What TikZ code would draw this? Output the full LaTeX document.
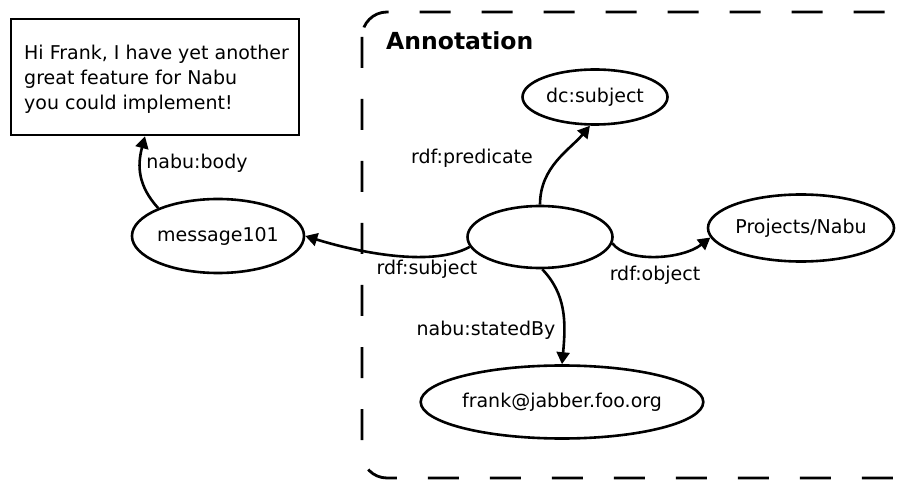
\documentclass[tikz,border=0pt]{standalone}
\usepackage{fontspec}
\setmainfont{DejaVu Sans}
\usetikzlibrary{arrows.meta,shapes.geometric}

\tikzset{
  lbl/.style={font=\fontsize{19}{25}\selectfont, inner sep=0pt},
  res/.style={draw, ellipse, line width=2.6pt, inner sep=0pt,
              font=\fontsize{19}{25}\selectfont},
  rel/.style={draw, line width=2.6pt, -{Triangle[length=12pt,width=13pt]}},
  frame/.style={draw, line width=2.8pt, dash pattern=on 31pt off 31pt,
                rounded corners=25pt},
}

\begin{document}
\begin{tikzpicture}[x=1pt, y=-1pt]
\useasboundingbox (0,0) rectangle (911,481);

% annotation frame
\draw[frame] (362,12) rectangle (930,478);
\node[anchor=west, inner sep=0pt, font=\fontsize{23.5}{28}\selectfont\bfseries]
  (title) at (386,41) {Annotation};

% message body
\node[draw, line width=2.6pt, minimum width=288pt, minimum height=116pt,
      inner sep=0pt] (box) at (155,77) {};
\node[lbl, anchor=base west] (line1) at (24,60) {Hi Frank, I have yet another};
\node[lbl, anchor=base west] (line2) at (24,85) {great feature for Nabu};
\node[lbl, anchor=base west] (line3) at (24,110) {you could implement!};

% resources
\node[res, minimum width=168pt, minimum height=74pt] (msg) at (218,236) {message101};
\node[res, minimum width=145pt, minimum height=62pt] (ann) at (540,237) {};
\node[res, minimum width=145pt, minimum height=55pt] (dcs) at (595,97) {dc:subject};
\node[res, minimum width=186pt, minimum height=67pt] (proj) at (801,228) {Projects/Nabu};
\node[res, minimum width=273pt, minimum height=73pt] (frank) at (562,402) {frank@jabber.foo.org};

% properties
\draw[rel] (msg.155) .. controls +(-20,-22) and +(-8,30) .. ([xshift=-10pt]box.south);
\draw[rel] (ann.north) .. controls +(0,-38) and +(-20,24) .. (dcs.-100);
\draw[rel] (ann.188) .. controls +(-40,22) and +(45,14) .. (msg.east);
\draw[rel] (ann.-5) .. controls +(15,20) and +(-28,22) .. (proj.186);
\draw[rel] (ann.-86) .. controls +(24,25) and +(4,-42) .. (frank.north);

% property labels
\node[lbl] (lbody) at (197,163) {nabu:body};
\node[lbl] (lpred) at (472,158) {rdf:predicate};
\node[lbl] (lsubj) at (427,269) {rdf:subject};
\node[lbl] (lobj)  at (655,275) {rdf:object};
\node[lbl] (lby)   at (486,330) {nabu:statedBy};
\end{tikzpicture}
\end{document}
